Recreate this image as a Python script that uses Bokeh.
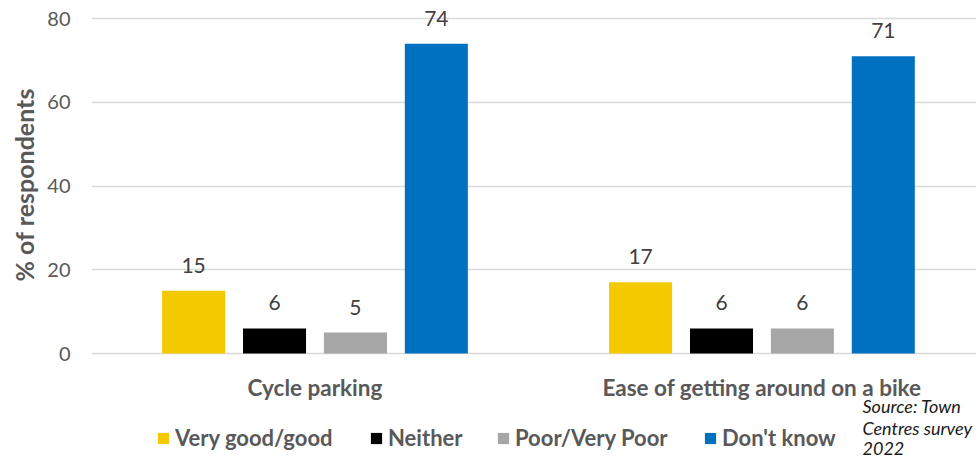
from bokeh.plotting import figure
from bokeh.models import (ColumnDataSource, Range1d, FixedTicker, Legend, LegendItem,
                          LabelSet, Label, Title)
from bokeh.core.properties import value
from bokeh.transform import dodge
from bokeh.embed import file_html
from bokeh.resources import INLINE

# ---- data ----
categories = ["Cycle parking", "Ease of getting around on a bike"]
series_names = ["Very good/good", "Neither", "Poor/Very Poor", "Don't know"]
very_good = [15, 17]
neither = [6, 6]
poor = [5, 6]
dont_know = [74, 71]
y_ticks = [0, 20, 40, 60, 80]
y_title = "% of respondents"
source_lines = ["Source: Town", "Centres survey", "2022"]

colors = ["#F5C900", "#000000", "#A6A6A6", "#0070C0"]
offsets = [-0.2715, -0.0905, 0.0905, 0.2715]
BAR_W = 0.141
FONT = "Lato"

xs = [i + 0.5 for i in range(len(categories))]
src = ColumnDataSource(dict(x=xs, s0=very_good, s1=neither, s2=poor, s3=dont_know,
                            t0=[str(v) for v in very_good], t1=[str(v) for v in neither],
                            t2=[str(v) for v in poor], t3=[str(v) for v in dont_know]))

p = figure(width=976, height=461, output_backend="svg", toolbar_location=None,
           x_range=Range1d(0, 1.980), y_range=Range1d(-25.79, 84.30),
           min_border_left=91, min_border_right=0, min_border_top=0, min_border_bottom=0)
p.outline_line_color = None
p.background_fill_color = "white"
p.border_fill_color = "white"

renderers = []
for k in range(4):
    r = p.vbar(x=dodge("x", offsets[k]), top="s%d" % k, width=BAR_W, source=src,
               fill_color=colors[k], line_color=None)
    renderers.append(r)
    lab = LabelSet(x=dodge("x", offsets[k]), y="s%d" % k, text="t%d" % k, source=src,
                   text_align="center", text_baseline="bottom", y_offset=18,
                   text_font=value(FONT), text_font_size=value("21px"),
                   text_color=value("#404040"))
    p.add_layout(lab)

# axes
p.xaxis.fixed_location = 0
p.xaxis.ticker = FixedTicker(ticks=xs)
p.xaxis.major_label_overrides = {x: c for x, c in zip(xs, categories)}
p.xaxis.axis_line_color = None
p.xaxis.major_tick_line_color = None
p.xaxis.minor_tick_line_color = None
p.xaxis.major_tick_out = 0
p.xaxis.major_tick_in = 0
p.xaxis.major_label_standoff = 20
p.xaxis.major_label_text_font = FONT
p.xaxis.major_label_text_font_style = "bold"
p.xaxis.major_label_text_font_size = "22.5px"
p.xaxis.major_label_text_color = "#595959"

p.yaxis.ticker = FixedTicker(ticks=y_ticks)
p.yaxis.axis_line_color = None
p.yaxis.major_tick_line_color = None
p.yaxis.minor_tick_line_color = None
p.yaxis.major_tick_out = 0
p.yaxis.major_tick_in = 0
p.yaxis.major_label_standoff = 21
p.yaxis.major_label_text_font = FONT
p.yaxis.major_label_text_font_size = "20px"
p.yaxis.major_label_text_color = "#595959"

# y-axis title, placed in the left panel so it can be centred on the 0-80 span
p.add_layout(Title(text=y_title, align="left", offset=180, vertical_align="top",
                   standoff=8, text_font=FONT, text_font_style="bold",
                   text_font_size="25px", text_color="#595959"), "left")

p.xgrid.grid_line_color = None
p.ygrid.grid_line_color = "#D9D9D9"
p.ygrid.grid_line_width = 1.5

# legends: one per item
leg_x = [65, 278, 405, 612]
for k in range(4):
    leg = Legend(items=[LegendItem(label=series_names[k], renderers=[renderers[k]])],
                 location=(leg_x[k], 10), orientation="horizontal",
                 padding=0, margin=0, border_line_color=None, background_fill_alpha=0,
                 glyph_width=14, glyph_height=14, label_standoff=5,
                 label_text_font=FONT, label_text_font_style="bold",
                 label_text_font_size="22px", label_text_color="#595959")
    p.add_layout(leg, "center")

# source note
src_y = [56, 34, 13]
for line, yy in zip(source_lines, src_y):
    p.add_layout(Label(x=771, y=yy, x_units="screen", y_units="screen",
                       text=line, text_font=FONT, text_font_style="italic",
                       text_font_size="18px", text_color="#1A1A1A",
                       text_baseline="alphabetic"))

open("out.html", "w").write(file_html(p, INLINE))
